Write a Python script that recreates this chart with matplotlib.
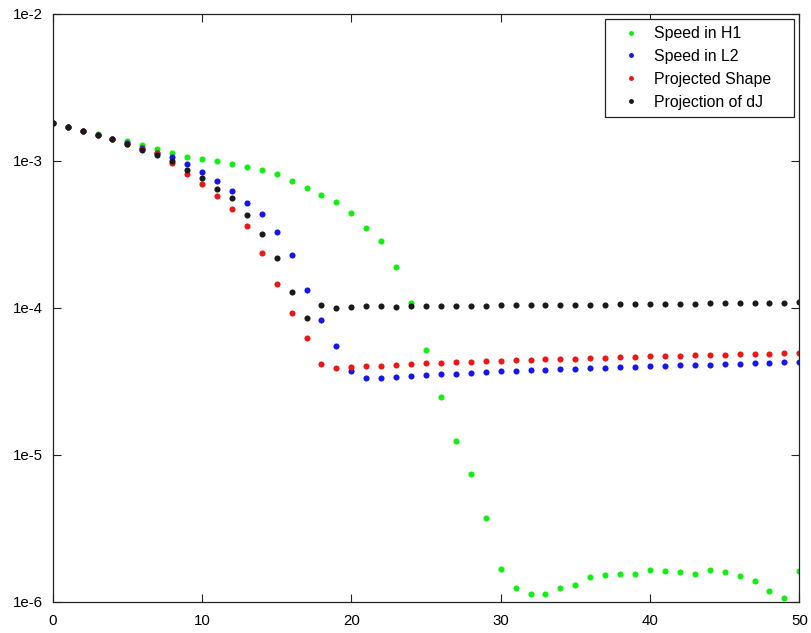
import numpy as np
import matplotlib
matplotlib.use("Agg")
import matplotlib.pyplot as plt

plt.rcParams['font.family'] = ['Liberation Sans', 'DejaVu Sans']

iterations = list(range(51))

speed_h1 = [1.82e-3, 1.71e-3, 1.61e-3, 1.52e-3, 1.42e-3, 1.36e-3, 1.28e-3, 1.21e-3, 1.13e-3, 1.07e-3,
            1.03e-3, 0.995e-3, 0.96e-3, 0.91e-3, 0.865e-3, 0.81e-3, 0.73e-3, 6.5e-4, 5.87e-4, 5.24e-4,
            4.39e-4, 3.52e-4, 2.86e-4, 1.90e-4, 1.08e-4, 5.18e-5, 2.46e-5, 1.25e-5, 7.45e-6, 3.74e-6,
            1.68e-6, 1.24e-6, 1.12e-6, 1.12e-6, 1.24e-6, 1.30e-6, 1.47e-6, 1.52e-6, 1.54e-6, 1.54e-6,
            1.63e-6, 1.61e-6, 1.58e-6, 1.54e-6, 1.65e-6, 1.60e-6, 1.50e-6, 1.38e-6, 1.19e-6, 1.06e-6,
            1.61e-6]

speed_l2 = [1.82e-3, 1.71e-3, 1.61e-3, 1.51e-3, 1.42e-3, 1.32e-3, 1.22e-3, 1.13e-3, 1.06e-3, 0.955e-3,
            0.84e-3, 0.727e-3, 0.627e-3, 0.515e-3, 0.432e-3, 0.33e-3, 0.23e-3, 1.32e-4, 8.25e-5, 5.5e-5,
            3.69e-5, 3.34e-5, 3.34e-5, 3.39e-5, 3.44e-5, 3.49e-5, 3.53e-5, 3.56e-5, 3.62e-5, 3.66e-5,
            3.71e-5, 3.73e-5, 3.75e-5, 3.77e-5, 3.81e-5, 3.82e-5, 3.87e-5, 3.91e-5, 3.93e-5, 3.98e-5,
            4.02e-5, 4.04e-5, 4.06e-5, 4.08e-5, 4.10e-5, 4.14e-5, 4.16e-5, 4.18e-5, 4.21e-5, 4.26e-5,
            4.28e-5]

projected_shape = [1.82e-3, 1.71e-3, 1.61e-3, 1.51e-3, 1.41e-3, 1.30e-3, 1.20e-3, 1.14e-3, 0.975e-3, 0.82e-3,
                   0.70e-3, 0.573e-3, 0.472e-3, 0.362e-3, 0.236e-3, 0.146e-3, 9.25e-5, 6.22e-5, 4.15e-5, 3.90e-5,
                   3.94e-5, 3.99e-5, 4.03e-5, 4.08e-5, 4.12e-5, 4.18e-5, 4.20e-5, 4.25e-5, 4.29e-5, 4.32e-5,
                   4.37e-5, 4.39e-5, 4.44e-5, 4.46e-5, 4.48e-5, 4.51e-5, 4.53e-5, 4.55e-5, 4.61e-5, 4.63e-5,
                   4.68e-5, 4.70e-5, 4.73e-5, 4.75e-5, 4.78e-5, 4.80e-5, 4.83e-5, 4.85e-5, 4.88e-5, 4.90e-5,
                   4.93e-5]

projection_dj = [1.82e-3, 1.71e-3, 1.61e-3, 1.51e-3, 1.41e-3, 1.30e-3, 1.19e-3, 1.09e-3, 0.995e-3, 0.865e-3,
                 0.77e-3, 0.643e-3, 0.559e-3, 0.426e-3, 0.32e-3, 0.217e-3, 0.129e-3, 8.55e-5, 1.04e-4, 0.997e-4,
                 1.02e-4, 1.025e-4, 1.025e-4, 1.017e-4, 1.025e-4, 1.03e-4, 1.03e-4, 1.03e-4, 1.035e-4, 1.035e-4,
                 1.040e-4, 1.040e-4, 1.040e-4, 1.046e-4, 1.046e-4, 1.051e-4, 1.051e-4, 1.051e-4, 1.057e-4, 1.057e-4,
                 1.062e-4, 1.062e-4, 1.068e-4, 1.068e-4, 1.073e-4, 1.073e-4, 1.073e-4, 1.078e-4, 1.078e-4, 1.084e-4,
                 1.090e-4]

series = [
    (speed_h1, '#11ee11', 'Speed in H1'),
    (speed_l2, '#1515ee', 'Speed in L2'),
    (projected_shape, '#ee1515', 'Projected Shape'),
    (projection_dj, '#1a1a1a', 'Projection of dJ'),
]

ytick_vals = [1e-6, 1e-5, 1e-4, 1e-3, 1e-2]
ytick_labels = ['1e-6', '1e-5', '1e-4', '1e-3', '1e-2']
xtick_vals = [0, 10, 20, 30, 40, 50]

fig = plt.figure(figsize=(8.11, 6.33), dpi=100)
ax = fig.add_axes([0.065, 0.0495, 0.9206, 0.9284])

for values, color, label in series:
    ax.plot(iterations, values, linestyle='none', marker='o', markersize=4.4,
            markeredgewidth=0, color=color, label=label)

ax.set_yscale('log')
ax.set_xlim(0, 50)
ax.set_ylim(1e-6, 1e-2)
ax.set_xticks(xtick_vals)
ax.set_yticks(ytick_vals)
ax.set_yticklabels(ytick_labels)
ax.yaxis.set_minor_locator(matplotlib.ticker.NullLocator())
ax.tick_params(direction='in', length=6, width=0.8, labelsize=10.8,
               top=True, right=True, colors='#222222', labelcolor='black')
ax.tick_params(axis='x', pad=9)
ax.tick_params(axis='y', pad=7)
for spine in ax.spines.values():
    spine.set_linewidth(0.9)
    spine.set_color('#222222')

# legend box stretched to a fixed width in the upper right corner
leg = ax.legend(loc='upper left', bbox_to_anchor=(0.7398, 0.9915, 0.2531, 0.0),
                mode='expand', fontsize=11.4,
                frameon=True, fancybox=False, edgecolor='#222222', framealpha=1,
                markerscale=0.8, handlelength=2.4, handletextpad=0.25,
                labelspacing=0.5, borderpad=0.45, borderaxespad=0)
leg.get_frame().set_linewidth(0.9)

fig.savefig('out.png', dpi=100)
